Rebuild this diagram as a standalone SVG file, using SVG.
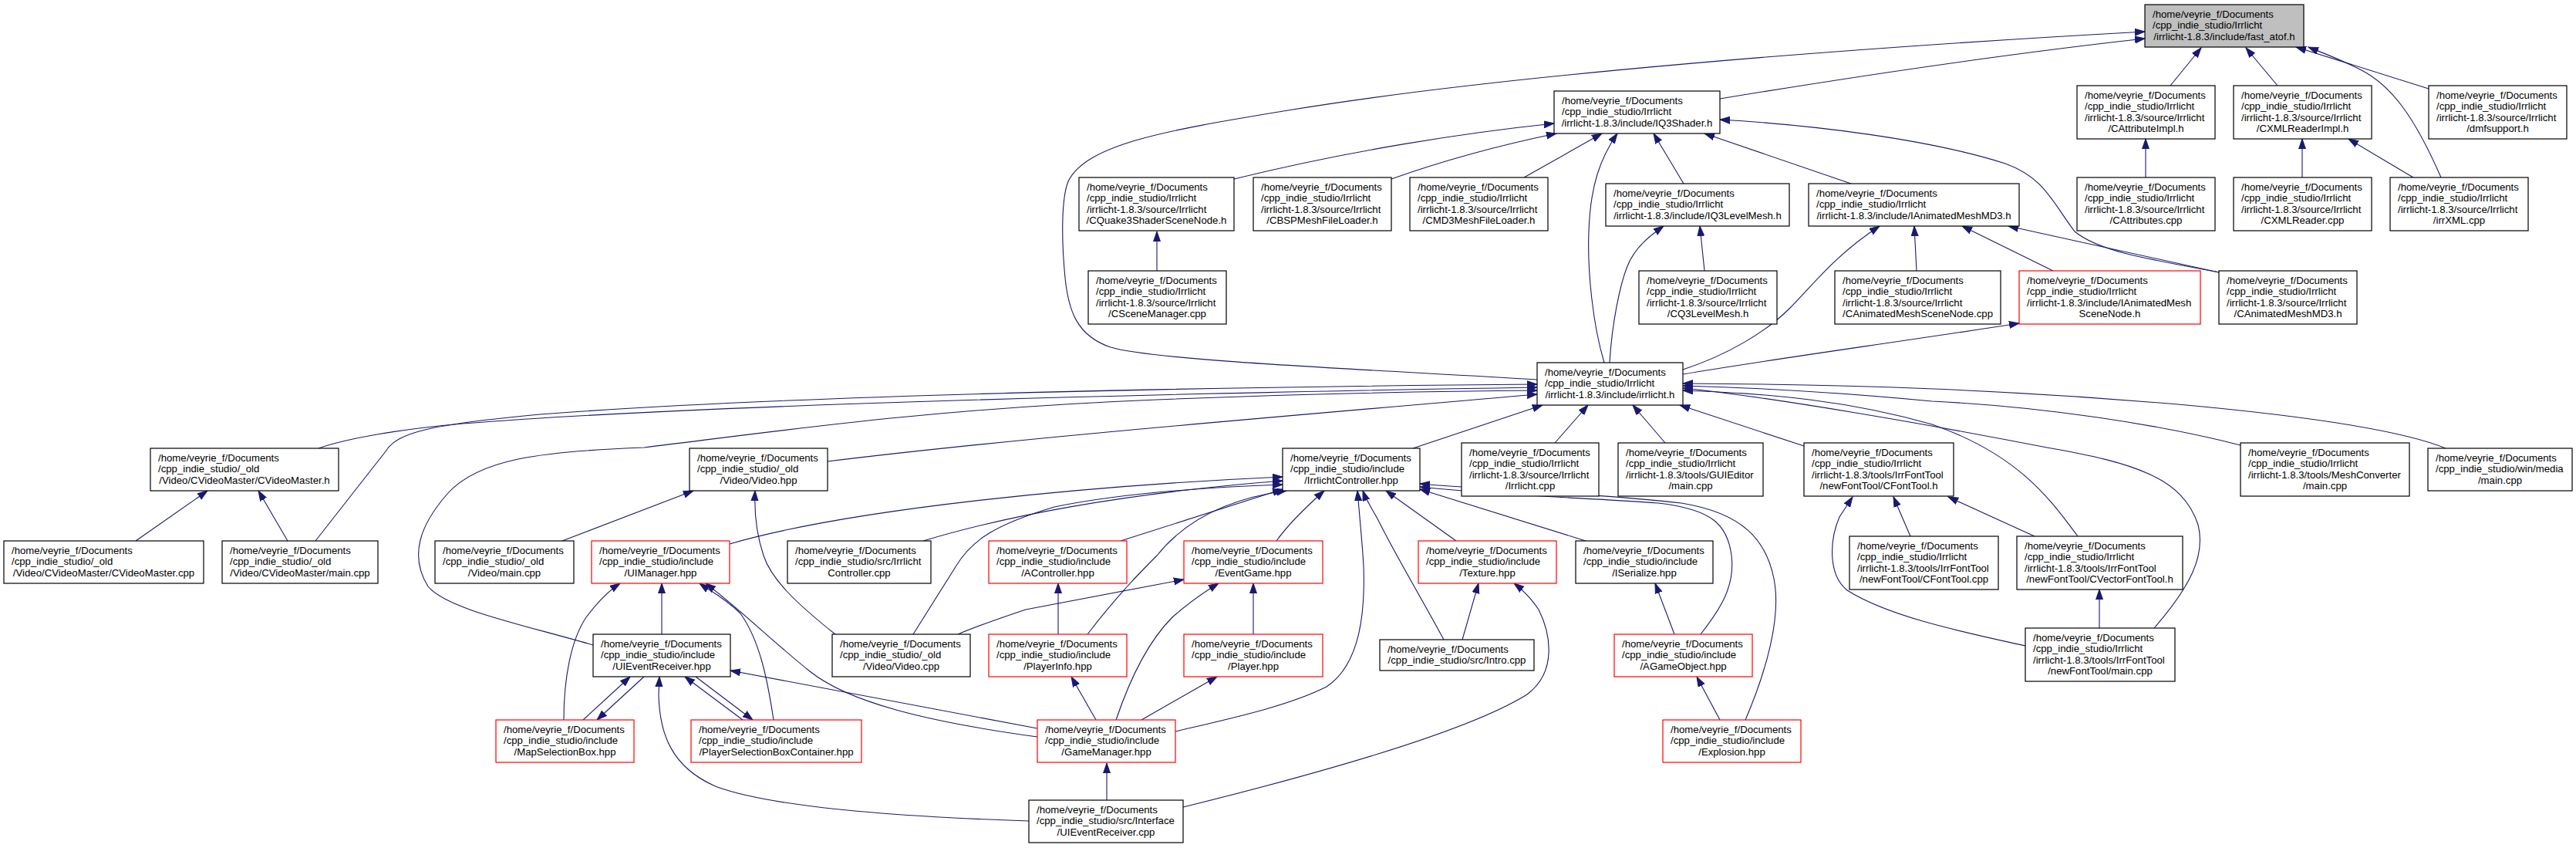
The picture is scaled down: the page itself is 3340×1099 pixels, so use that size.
<svg xmlns="http://www.w3.org/2000/svg" width="3340" height="1099" viewBox="0 0 3340 1099">
<style>
.n rect{fill:#fff;stroke:#000;stroke-width:1.2}
.r rect{stroke:#f00}
.g rect{fill:#bfbfbf}
text{font-family:"Liberation Sans",Arial,Helvetica,sans-serif;font-size:13.2px;fill:#000}
.c{text-anchor:middle}
#edges path{fill:none;stroke:#191970;stroke-width:1.1;marker-end:url(#a)}
</style>
<defs>
<marker id="a" markerUnits="userSpaceOnUse" markerWidth="15" markerHeight="11" refX="13" refY="5" orient="auto"><path d="M0,0.5 L13,5 L0,9.5 z" fill="#191970" stroke="#191970" stroke-width="1"/></marker>
</defs>
<rect width="3340" height="1099" fill="#fff"/>
<g id="edges">
<path d="M1993,492 C1800,480 1500,468 1440,450 C1395,435 1385,400 1381,360 C1377,320 1375,260 1385,235 C1410,185 1520,168 1670,143 C1950,97 2400,62 2781,41"/>
<path d="M2230,128 C2400,100 2600,70 2781,50"/>
<path d="M2814,111 L2854,62"/>
<path d="M2953,111 L2912,62"/>
<path d="M3149,115 L2977,61"/>
<path d="M3165,230 C3130,150 3100,110 3060,90 C3030,75 3010,68 2993,61"/>
<path d="M1600,232 C1750,195 1900,172 2015,160"/>
<path d="M1804,232 C1880,205 1960,185 2018,173"/>
<path d="M1976,230 L2077,173"/>
<path d="M2080,470 C2065,420 2058,350 2060,300 C2062,240 2075,205 2097,173"/>
<path d="M2183,238 L2144,173"/>
<path d="M2400,238 L2210,173"/>
<path d="M2878,353 C2780,335 2720,325 2690,300 C2660,260 2650,230 2600,212 C2500,180 2350,162 2230,155"/>
<path d="M1500,351 L1500,300"/>
<path d="M2087,470 C2090,420 2100,370 2110,345 C2120,320 2140,305 2157,293"/>
<path d="M2210,351 L2204,293"/>
<path d="M2182,479 C2240,460 2290,430 2320,400 C2350,370 2380,330 2437,293"/>
<path d="M2485,351 L2482,293"/>
<path d="M2662,351 L2544,293"/>
<path d="M2877,353 L2604,293"/>
<path d="M2182,485 C2300,465 2450,445 2618,419"/>
<path d="M2782,230 L2782,180"/>
<path d="M2985,230 L2985,180"/>
<path d="M3129,230 L3045,180"/>
<path d="M413,581 C450,568 520,556 600,549 C900,525 1500,510 1993,502"/>
<path d="M409,701 L500,585 C515,560 560,550 700,537 C1000,514 1500,502 1993,498"/>
<path d="M769,836 C680,810 580,790 555,760 C530,720 545,680 580,640 C620,595 700,585 835,580 C1000,560 1200,530 1500,518 C1700,510 1850,507 1993,506"/>
<path d="M1073,598 C1300,570 1600,545 1993,511"/>
<path d="M1832,581 L2000,525"/>
<path d="M2016,574 L2059,525"/>
<path d="M2159,574 L2117,525"/>
<path d="M2339,578 L2178,525"/>
<path d="M3171,581 C3120,560 3000,540 2824,524 C2600,505 2400,498 2182,497"/>
<path d="M2905,577 C2800,550 2650,527 2505,520 C2400,510 2300,503 2182,500"/>
<path d="M2793,814 C2840,760 2860,720 2850,680 C2830,620 2770,600 2654,580 C2500,550 2300,515 2182,503"/>
<path d="M2694,695 C2660,650 2620,590 2505,550 C2400,520 2300,510 2182,506"/>
<path d="M946,705 C1100,660 1400,630 1663,618"/>
<path d="M1197,701 C1300,670 1450,640 1663,623"/>
<path d="M1184,822 L1240,733 C1260,700 1290,680 1367,657 C1450,640 1550,632 1663,628"/>
<path d="M1453,701 L1663,634"/>
<path d="M1410,822 C1450,770 1480,740 1500,720 C1540,670 1600,645 1668,636"/>
<path d="M1655,701 C1670,680 1690,660 1717,636"/>
<path d="M1524,948 C1600,930 1670,915 1720,890 C1765,860 1770,790 1768,733 C1766,700 1762,660 1760,636"/>
<path d="M1872,829 C1840,770 1810,720 1790,680 C1780,660 1772,650 1767,636"/>
<path d="M1888,701 L1797,636"/>
<path d="M2056,701 L1841,634"/>
<path d="M2205,822 C2230,790 2250,760 2245,720 C2240,680 2220,660 2150,652 C2050,645 1950,642 1841,631"/>
<path d="M2263,933 C2290,870 2310,800 2300,750 C2290,700 2260,665 2180,652 C2080,640 1950,636 1841,627"/>
<path d="M176,701 L269,636"/>
<path d="M373,701 L335,636"/>
<path d="M729,701 L899,636"/>
<path d="M1083,822 C1030,780 1000,750 990,720 C980,690 978,660 979,636"/>
<path d="M1242,822 C1270,810 1300,800 1330,790 L1535,751"/>
<path d="M858,822 L858,756"/>
<path d="M731,933 C731,880 740,830 760,800 C775,780 790,765 804,756"/>
<path d="M756,933 L817,877"/>
<path d="M835,877 L774,933"/>
<path d="M1003,933 C995,880 985,830 960,795 C940,775 920,765 907,756"/>
<path d="M1345,955 C1200,935 1100,910 1050,870 C1000,830 960,790 915,756"/>
<path d="M902,877 L976,933"/>
<path d="M963,933 L888,877"/>
<path d="M1345,944 L947,869"/>
<path d="M1334,1064 C1150,1058 1000,1045 930,1020 C870,995 855,950 854,900 L855,877"/>
<path d="M1372,822 L1372,756"/>
<path d="M1421,933 L1389,877"/>
<path d="M1447,933 C1465,880 1490,830 1520,800 C1545,778 1565,765 1580,756"/>
<path d="M1625,822 L1625,756"/>
<path d="M1480,933 L1578,877"/>
<path d="M1435,1037 L1435,989"/>
<path d="M1534,1046 C1700,1005 1900,950 1980,900 C2020,870 2010,820 1995,790 C1985,775 1975,765 1963,756"/>
<path d="M1896,829 L1917,756"/>
<path d="M2171,822 L2146,756"/>
<path d="M2230,933 L2200,877"/>
<path d="M2477,695 L2455,644"/>
<path d="M2638,695 L2526,644"/>
<path d="M2626,837 C2550,820 2450,800 2395,765 C2370,745 2372,700 2385,670 L2402,644"/>
<path d="M2722,814 L2722,764"/>
</g>
<g id="fast_atof" class="n g"><rect x="2781" y="6" width="206" height="55"/><text x="2791" y="22.5">/home/veyrie_f/Documents</text><text x="2791" y="37.1">/cpp_indie_studio/Irrlicht</text><text class="c" x="2884" y="51.7">/irrlicht-1.8.3/include/fast_atof.h</text></g>
<g id="iq3shader" class="n"><rect x="2015" y="118" width="215" height="55"/><text x="2025" y="134.5">/home/veyrie_f/Documents</text><text x="2025" y="149.1">/cpp_indie_studio/Irrlicht</text><text class="c" x="2122.5" y="163.7">/irrlicht-1.8.3/include/IQ3Shader.h</text></g>
<g id="cattributeimpl" class="n"><rect x="2693" y="111" width="179" height="69"/><text x="2703" y="127.5">/home/veyrie_f/Documents</text><text x="2703" y="142.1">/cpp_indie_studio/Irrlicht</text><text x="2703" y="156.7">/irrlicht-1.8.3/source/Irrlicht</text><text class="c" x="2782.5" y="171.3">/CAttributeImpl.h</text></g>
<g id="cxmlreaderimpl" class="n"><rect x="2896" y="111" width="179" height="69"/><text x="2906" y="127.5">/home/veyrie_f/Documents</text><text x="2906" y="142.1">/cpp_indie_studio/Irrlicht</text><text x="2906" y="156.7">/irrlicht-1.8.3/source/Irrlicht</text><text class="c" x="2985.5" y="171.3">/CXMLReaderImpl.h</text></g>
<g id="dmfsupport" class="n"><rect x="3149" y="111" width="179" height="69"/><text x="3159" y="127.5">/home/veyrie_f/Documents</text><text x="3159" y="142.1">/cpp_indie_studio/Irrlicht</text><text x="3159" y="156.7">/irrlicht-1.8.3/source/Irrlicht</text><text class="c" x="3238.5" y="171.3">/dmfsupport.h</text></g>
<g id="cquake3" class="n"><rect x="1399" y="230" width="201" height="69"/><text x="1409" y="246.5">/home/veyrie_f/Documents</text><text x="1409" y="261.1">/cpp_indie_studio/Irrlicht</text><text x="1409" y="275.7">/irrlicht-1.8.3/source/Irrlicht</text><text class="c" x="1499.5" y="290.3">/CQuake3ShaderSceneNode.h</text></g>
<g id="cbsp" class="n"><rect x="1625" y="230" width="179" height="69"/><text x="1635" y="246.5">/home/veyrie_f/Documents</text><text x="1635" y="261.1">/cpp_indie_studio/Irrlicht</text><text x="1635" y="275.7">/irrlicht-1.8.3/source/Irrlicht</text><text class="c" x="1714.5" y="290.3">/CBSPMeshFileLoader.h</text></g>
<g id="cmd3" class="n"><rect x="1828" y="230" width="179" height="69"/><text x="1838" y="246.5">/home/veyrie_f/Documents</text><text x="1838" y="261.1">/cpp_indie_studio/Irrlicht</text><text x="1838" y="275.7">/irrlicht-1.8.3/source/Irrlicht</text><text class="c" x="1917.5" y="290.3">/CMD3MeshFileLoader.h</text></g>
<g id="iq3levelmesh" class="n"><rect x="2082" y="238" width="238" height="55"/><text x="2092" y="254.5">/home/veyrie_f/Documents</text><text x="2092" y="269.1">/cpp_indie_studio/Irrlicht</text><text class="c" x="2201" y="283.7">/irrlicht-1.8.3/include/IQ3LevelMesh.h</text></g>
<g id="ianimatedmeshmd3" class="n"><rect x="2345" y="238" width="273" height="55"/><text x="2355" y="254.5">/home/veyrie_f/Documents</text><text x="2355" y="269.1">/cpp_indie_studio/Irrlicht</text><text class="c" x="2481.5" y="283.7">/irrlicht-1.8.3/include/IAnimatedMeshMD3.h</text></g>
<g id="cattributes" class="n"><rect x="2693" y="230" width="179" height="69"/><text x="2703" y="246.5">/home/veyrie_f/Documents</text><text x="2703" y="261.1">/cpp_indie_studio/Irrlicht</text><text x="2703" y="275.7">/irrlicht-1.8.3/source/Irrlicht</text><text class="c" x="2782.5" y="290.3">/CAttributes.cpp</text></g>
<g id="cxmlreader" class="n"><rect x="2896" y="230" width="179" height="69"/><text x="2906" y="246.5">/home/veyrie_f/Documents</text><text x="2906" y="261.1">/cpp_indie_studio/Irrlicht</text><text x="2906" y="275.7">/irrlicht-1.8.3/source/Irrlicht</text><text class="c" x="2985.5" y="290.3">/CXMLReader.cpp</text></g>
<g id="irrxml" class="n"><rect x="3099" y="230" width="179" height="69"/><text x="3109" y="246.5">/home/veyrie_f/Documents</text><text x="3109" y="261.1">/cpp_indie_studio/Irrlicht</text><text x="3109" y="275.7">/irrlicht-1.8.3/source/Irrlicht</text><text class="c" x="3188.5" y="290.3">/irrXML.cpp</text></g>
<g id="cscenemanager" class="n"><rect x="1411" y="351" width="179" height="69"/><text x="1421" y="367.5">/home/veyrie_f/Documents</text><text x="1421" y="382.1">/cpp_indie_studio/Irrlicht</text><text x="1421" y="396.7">/irrlicht-1.8.3/source/Irrlicht</text><text class="c" x="1500.5" y="411.3">/CSceneManager.cpp</text></g>
<g id="cq3levelmesh" class="n"><rect x="2125" y="351" width="179" height="69"/><text x="2135" y="367.5">/home/veyrie_f/Documents</text><text x="2135" y="382.1">/cpp_indie_studio/Irrlicht</text><text x="2135" y="396.7">/irrlicht-1.8.3/source/Irrlicht</text><text class="c" x="2214.5" y="411.3">/CQ3LevelMesh.h</text></g>
<g id="canimatedmeshscenenode" class="n"><rect x="2379" y="351" width="215" height="69"/><text x="2389" y="367.5">/home/veyrie_f/Documents</text><text x="2389" y="382.1">/cpp_indie_studio/Irrlicht</text><text x="2389" y="396.7">/irrlicht-1.8.3/source/Irrlicht</text><text class="c" x="2486.5" y="411.3">/CAnimatedMeshSceneNode.cpp</text></g>
<g id="ianimatedmeshscenenode" class="n r"><rect x="2618" y="351" width="235" height="69"/><text x="2628" y="367.5">/home/veyrie_f/Documents</text><text x="2628" y="382.1">/cpp_indie_studio/Irrlicht</text><text x="2628" y="396.7">/irrlicht-1.8.3/include/IAnimatedMesh</text><text class="c" x="2735.5" y="411.3">SceneNode.h</text></g>
<g id="canimatedmeshmd3" class="n"><rect x="2877" y="351" width="179" height="69"/><text x="2887" y="367.5">/home/veyrie_f/Documents</text><text x="2887" y="382.1">/cpp_indie_studio/Irrlicht</text><text x="2887" y="396.7">/irrlicht-1.8.3/source/Irrlicht</text><text class="c" x="2966.5" y="411.3">/CAnimatedMeshMD3.h</text></g>
<g id="irrlicht_h" class="n"><rect x="1993" y="470" width="189" height="55"/><text x="2003" y="486.5">/home/veyrie_f/Documents</text><text x="2003" y="501.1">/cpp_indie_studio/Irrlicht</text><text class="c" x="2087.5" y="515.7">/irrlicht-1.8.3/include/irrlicht.h</text></g>
<g id="cvideomaster_h" class="n"><rect x="195" y="581" width="244" height="55"/><text x="205" y="597.5">/home/veyrie_f/Documents</text><text x="205" y="612.1">/cpp_indie_studio/_old</text><text class="c" x="317" y="626.7">/Video/CVideoMaster/CVideoMaster.h</text></g>
<g id="video_hpp" class="n"><rect x="894" y="581" width="179" height="55"/><text x="904" y="597.5">/home/veyrie_f/Documents</text><text x="904" y="612.1">/cpp_indie_studio/_old</text><text class="c" x="983.5" y="626.7">/Video/Video.hpp</text></g>
<g id="irrlichtcontroller_hpp" class="n"><rect x="1663" y="581" width="178" height="55"/><text x="1673" y="597.5">/home/veyrie_f/Documents</text><text x="1673" y="612.1">/cpp_indie_studio/include</text><text class="c" x="1752" y="626.7">/IrrlichtController.hpp</text></g>
<g id="irrlicht_cpp" class="n"><rect x="1895" y="574" width="178" height="69"/><text x="1905" y="590.5">/home/veyrie_f/Documents</text><text x="1905" y="605.1">/cpp_indie_studio/Irrlicht</text><text x="1905" y="619.7">/irrlicht-1.8.3/source/Irrlicht</text><text class="c" x="1984" y="634.3">/Irrlicht.cpp</text></g>
<g id="guieditor_main" class="n"><rect x="2098" y="574" width="188" height="69"/><text x="2108" y="590.5">/home/veyrie_f/Documents</text><text x="2108" y="605.1">/cpp_indie_studio/Irrlicht</text><text x="2108" y="619.7">/irrlicht-1.8.3/tools/GUIEditor</text><text class="c" x="2192" y="634.3">/main.cpp</text></g>
<g id="cfonttool_h" class="n"><rect x="2339" y="574" width="194" height="69"/><text x="2349" y="590.5">/home/veyrie_f/Documents</text><text x="2349" y="605.1">/cpp_indie_studio/Irrlicht</text><text x="2349" y="619.7">/irrlicht-1.8.3/tools/IrrFontTool</text><text class="c" x="2436" y="634.3">/newFontTool/CFontTool.h</text></g>
<g id="meshconverter_main" class="n"><rect x="2905" y="574" width="219" height="69"/><text x="2915" y="590.5">/home/veyrie_f/Documents</text><text x="2915" y="605.1">/cpp_indie_studio/Irrlicht</text><text x="2915" y="619.7">/irrlicht-1.8.3/tools/MeshConverter</text><text class="c" x="3014.5" y="634.3">/main.cpp</text></g>
<g id="winmedia_main" class="n"><rect x="3148" y="581" width="187" height="55"/><text x="3158" y="597.5">/home/veyrie_f/Documents</text><text x="3158" y="612.1">/cpp_indie_studio/win/media</text><text class="c" x="3241.5" y="626.7">/main.cpp</text></g>
<g id="cvideomaster_cpp" class="n"><rect x="5" y="701" width="259" height="55"/><text x="15" y="717.5">/home/veyrie_f/Documents</text><text x="15" y="732.1">/cpp_indie_studio/_old</text><text class="c" x="134.5" y="746.7">/Video/CVideoMaster/CVideoMaster.cpp</text></g>
<g id="cvideomaster_main" class="n"><rect x="288" y="701" width="202" height="55"/><text x="298" y="717.5">/home/veyrie_f/Documents</text><text x="298" y="732.1">/cpp_indie_studio/_old</text><text class="c" x="389" y="746.7">/Video/CVideoMaster/main.cpp</text></g>
<g id="video_main" class="n"><rect x="564" y="701" width="180" height="55"/><text x="574" y="717.5">/home/veyrie_f/Documents</text><text x="574" y="732.1">/cpp_indie_studio/_old</text><text class="c" x="654" y="746.7">/Video/main.cpp</text></g>
<g id="uimanager" class="n r"><rect x="767" y="701" width="179" height="55"/><text x="777" y="717.5">/home/veyrie_f/Documents</text><text x="777" y="732.1">/cpp_indie_studio/include</text><text class="c" x="856.5" y="746.7">/UIManager.hpp</text></g>
<g id="irrlichtcontroller_cpp" class="n"><rect x="1021" y="701" width="186" height="55"/><text x="1031" y="717.5">/home/veyrie_f/Documents</text><text x="1031" y="732.1">/cpp_indie_studio/src/Irrlicht</text><text class="c" x="1114" y="746.7">Controller.cpp</text></g>
<g id="acontroller" class="n r"><rect x="1282" y="701" width="179" height="55"/><text x="1292" y="717.5">/home/veyrie_f/Documents</text><text x="1292" y="732.1">/cpp_indie_studio/include</text><text class="c" x="1371.5" y="746.7">/AController.hpp</text></g>
<g id="eventgame" class="n r"><rect x="1535" y="701" width="180" height="55"/><text x="1545" y="717.5">/home/veyrie_f/Documents</text><text x="1545" y="732.1">/cpp_indie_studio/include</text><text class="c" x="1625" y="746.7">/EventGame.hpp</text></g>
<g id="texture" class="n r"><rect x="1839" y="701" width="179" height="55"/><text x="1849" y="717.5">/home/veyrie_f/Documents</text><text x="1849" y="732.1">/cpp_indie_studio/include</text><text class="c" x="1928.5" y="746.7">/Texture.hpp</text></g>
<g id="iserialize" class="n"><rect x="2043" y="701" width="178" height="55"/><text x="2053" y="717.5">/home/veyrie_f/Documents</text><text x="2053" y="732.1">/cpp_indie_studio/include</text><text class="c" x="2132" y="746.7">/ISerialize.hpp</text></g>
<g id="cfonttool_cpp" class="n"><rect x="2398" y="695" width="193" height="69"/><text x="2408" y="711.5">/home/veyrie_f/Documents</text><text x="2408" y="726.1">/cpp_indie_studio/Irrlicht</text><text x="2408" y="740.7">/irrlicht-1.8.3/tools/IrrFontTool</text><text class="c" x="2494.5" y="755.3">/newFontTool/CFontTool.cpp</text></g>
<g id="cvectorfonttool" class="n"><rect x="2615" y="695" width="215" height="69"/><text x="2625" y="711.5">/home/veyrie_f/Documents</text><text x="2625" y="726.1">/cpp_indie_studio/Irrlicht</text><text x="2625" y="740.7">/irrlicht-1.8.3/tools/IrrFontTool</text><text class="c" x="2722.5" y="755.3">/newFontTool/CVectorFontTool.h</text></g>
<g id="uieventreceiver_hpp" class="n"><rect x="769" y="822" width="178" height="55"/><text x="779" y="838.5">/home/veyrie_f/Documents</text><text x="779" y="853.1">/cpp_indie_studio/include</text><text class="c" x="858" y="867.7">/UIEventReceiver.hpp</text></g>
<g id="video_cpp" class="n"><rect x="1079" y="822" width="179" height="55"/><text x="1089" y="838.5">/home/veyrie_f/Documents</text><text x="1089" y="853.1">/cpp_indie_studio/_old</text><text class="c" x="1168.5" y="867.7">/Video/Video.cpp</text></g>
<g id="playerinfo" class="n r"><rect x="1282" y="822" width="179" height="55"/><text x="1292" y="838.5">/home/veyrie_f/Documents</text><text x="1292" y="853.1">/cpp_indie_studio/include</text><text class="c" x="1371.5" y="867.7">/PlayerInfo.hpp</text></g>
<g id="player" class="n r"><rect x="1535" y="822" width="180" height="55"/><text x="1545" y="838.5">/home/veyrie_f/Documents</text><text x="1545" y="853.1">/cpp_indie_studio/include</text><text class="c" x="1625" y="867.7">/Player.hpp</text></g>
<g id="intro" class="n"><rect x="1789" y="829" width="200" height="40"/><text x="1799" y="845.5">/home/veyrie_f/Documents</text><text class="c" x="1889" y="860.1">/cpp_indie_studio/src/Intro.cpp</text></g>
<g id="agameobject" class="n r"><rect x="2093" y="822" width="179" height="55"/><text x="2103" y="838.5">/home/veyrie_f/Documents</text><text x="2103" y="853.1">/cpp_indie_studio/include</text><text class="c" x="2182.5" y="867.7">/AGameObject.hpp</text></g>
<g id="newfonttool_main" class="n"><rect x="2626" y="814" width="194" height="69"/><text x="2636" y="830.5">/home/veyrie_f/Documents</text><text x="2636" y="845.1">/cpp_indie_studio/Irrlicht</text><text x="2636" y="859.7">/irrlicht-1.8.3/tools/IrrFontTool</text><text class="c" x="2723" y="874.3">/newFontTool/main.cpp</text></g>
<g id="mapselectionbox" class="n r"><rect x="643" y="933" width="179" height="55"/><text x="653" y="949.5">/home/veyrie_f/Documents</text><text x="653" y="964.1">/cpp_indie_studio/include</text><text class="c" x="732.5" y="978.7">/MapSelectionBox.hpp</text></g>
<g id="playerselectionboxcontainer" class="n r"><rect x="896" y="933" width="221" height="55"/><text x="906" y="949.5">/home/veyrie_f/Documents</text><text x="906" y="964.1">/cpp_indie_studio/include</text><text class="c" x="1006.5" y="978.7">/PlayerSelectionBoxContainer.hpp</text></g>
<g id="gamemanager" class="n r"><rect x="1345" y="933" width="179" height="55"/><text x="1355" y="949.5">/home/veyrie_f/Documents</text><text x="1355" y="964.1">/cpp_indie_studio/include</text><text class="c" x="1434.5" y="978.7">/GameManager.hpp</text></g>
<g id="explosion" class="n r"><rect x="2156" y="933" width="179" height="55"/><text x="2166" y="949.5">/home/veyrie_f/Documents</text><text x="2166" y="964.1">/cpp_indie_studio/include</text><text class="c" x="2245.5" y="978.7">/Explosion.hpp</text></g>
<g id="uieventreceiver_cpp" class="n"><rect x="1334" y="1037" width="200" height="55"/><text x="1344" y="1053.5">/home/veyrie_f/Documents</text><text x="1344" y="1068.1">/cpp_indie_studio/src/Interface</text><text class="c" x="1434" y="1082.7">/UIEventReceiver.cpp</text></g>
</svg>
